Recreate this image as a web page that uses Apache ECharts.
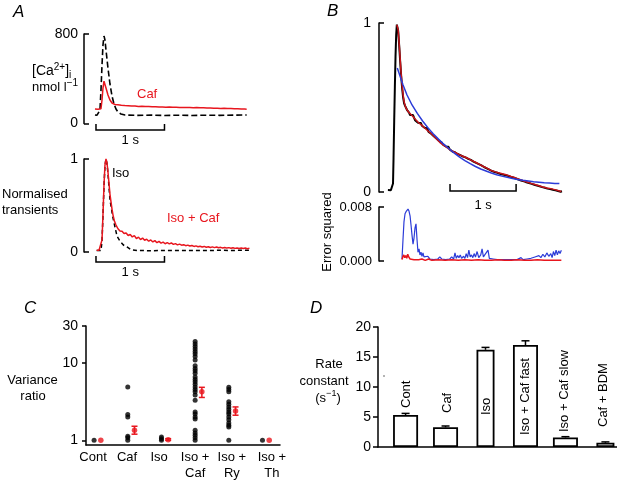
<!DOCTYPE html>
<html><head><meta charset="utf-8">
<script src="https://cdn.jsdelivr.net/npm/echarts@6/dist/echarts.min.js"></script>
<style>html,body{margin:0;padding:0;background:#fff}#c{width:617px;height:480px}</style>
</head><body><div id="c"></div>
<script>
// ---------- Panel A (top): [Ca2+]i, nmol/l vs time (s) ----------
const a1Black = [[-0.015,76],[0.015,74],[0.044,77],[0.058,120],[0.073,300],[0.088,523],[0.102,700],[0.117,782],[0.131,746],[0.146,657],[0.175,496],[0.204,353],[0.234,246],[0.263,174],[0.292,130],[0.321,103],[0.365,85],[0.423,76],[0.6,73],[0.8,75],[1.0,72],[1.2,74],[1.4,72],[1.6,74],[1.8,73],[2.0,75],[2.2,76]];
const a1Red = [[-0.015,130],[0.03,128],[0.073,132],[0.088,210],[0.102,317],[0.117,378],[0.131,362],[0.146,317],[0.175,255],[0.204,210],[0.234,183],[0.277,170],[0.32,167],[0.37,163],[0.42,160],[0.47,158],[0.52,156],[0.57,157],[0.62,153],[0.67,154],[0.72,151],[0.77,152],[0.82,149],[0.87,150],[0.92,147],[0.97,148],[1.02,146],[1.07,147],[1.12,145],[1.17,146],[1.22,143],[1.27,144],[1.32,142],[1.37,143],[1.42,141],[1.47,142],[1.52,140],[1.57,140],[1.62,138],[1.67,139],[1.72,137],[1.77,137],[1.82,135],[1.87,136],[1.92,134],[1.97,134],[2.02,132],[2.07,132],[2.12,130],[2.17,129],[2.2,128]];
const a1Ticks = [0, 800];
// ---------- Panel A (bottom): normalised transients ----------
const a2Black = [[0.01,0.016],[0.073,0.016],[0.088,0.12],[0.102,0.39],[0.117,0.71],[0.131,0.93],[0.146,1.0],[0.161,0.95],[0.175,0.84],[0.204,0.56],[0.248,0.366],[0.307,0.17],[0.35,0.118],[0.4,0.075],[0.453,0.054],[0.51,0.025],[0.6,0.016],[0.8,0.014],[1.0,0.016],[1.2,0.015],[1.4,0.017],[1.6,0.016],[1.8,0.018],[2.0,0.017],[2.25,0.02]];
const a2Red = [[0.01,0.02],[0.044,0.018],[0.073,0.022],[0.088,0.13],[0.102,0.4],[0.117,0.72],[0.131,0.935],[0.146,1.0],[0.161,0.957],[0.175,0.86],[0.204,0.62],[0.234,0.46],[0.248,0.4],[0.27,0.33],[0.292,0.29],[0.321,0.25],[0.35,0.226],[0.38,0.222],[0.41,0.198],[0.44,0.205],[0.47,0.178],[0.5,0.188],[0.53,0.162],[0.56,0.176],[0.59,0.145],[0.62,0.16],[0.65,0.134],[0.68,0.15],[0.71,0.126],[0.74,0.138],[0.77,0.116],[0.8,0.13],[0.83,0.108],[0.86,0.122],[0.89,0.1],[0.92,0.114],[0.95,0.095],[0.98,0.107],[1.01,0.089],[1.04,0.1],[1.07,0.087],[1.1,0.097],[1.13,0.082],[1.16,0.09],[1.19,0.077],[1.22,0.085],[1.25,0.073],[1.28,0.079],[1.31,0.068],[1.34,0.074],[1.37,0.064],[1.4,0.07],[1.43,0.06],[1.46,0.066],[1.49,0.057],[1.52,0.062],[1.55,0.054],[1.58,0.06],[1.61,0.051],[1.64,0.057],[1.67,0.049],[1.7,0.055],[1.73,0.047],[1.76,0.053],[1.79,0.045],[1.82,0.05],[1.85,0.043],[1.88,0.049],[1.91,0.042],[1.94,0.047],[1.97,0.04],[2.0,0.046],[2.03,0.039],[2.06,0.044],[2.09,0.038],[2.12,0.043],[2.15,0.037],[2.18,0.042],[2.21,0.036],[2.24,0.04]];
const a2Ticks = [0, 1];
// ---------- Panel B (top): normalised transient and fits ----------
const bBlack = [[-0.065,0.012],[-0.05,0.009],[-0.035,0.014],[-0.02,0.011],[-0.005,0.013],[0.012,0.05],[0.02,0.2],[0.03,0.42],[0.04,0.62],[0.05,0.8],[0.06,0.93],[0.07,0.99],[0.078,1.0],[0.09,0.955],[0.105,0.87],[0.12,0.775],[0.135,0.69],[0.15,0.615],[0.165,0.56],[0.18,0.525],[0.195,0.51],[0.21,0.5],[0.225,0.485],[0.24,0.49],[0.255,0.47],[0.27,0.455],[0.285,0.46],[0.3,0.445],[0.315,0.455],[0.33,0.44],[0.345,0.425],[0.36,0.435],[0.375,0.425],[0.39,0.41],[0.405,0.418],[0.42,0.4],[0.435,0.408],[0.45,0.392],[0.47,0.398],[0.49,0.38],[0.51,0.372],[0.53,0.378],[0.55,0.355],[0.57,0.36],[0.59,0.345],[0.61,0.34],[0.63,0.33],[0.65,0.334],[0.67,0.316],[0.69,0.31],[0.71,0.302],[0.73,0.296],[0.75,0.292],[0.77,0.28],[0.79,0.283],[0.81,0.27],[0.83,0.262],[0.85,0.268],[0.87,0.252],[0.89,0.256],[0.91,0.24],[0.93,0.245],[0.95,0.235],[0.97,0.238],[0.99,0.225],[1.01,0.228],[1.03,0.218],[1.05,0.222],[1.07,0.21],[1.09,0.215],[1.11,0.205],[1.13,0.208],[1.15,0.196],[1.17,0.2],[1.19,0.19],[1.21,0.192],[1.23,0.18],[1.25,0.185],[1.27,0.172],[1.29,0.176],[1.31,0.165],[1.33,0.168],[1.35,0.158],[1.37,0.16],[1.39,0.148],[1.41,0.152],[1.43,0.14],[1.45,0.144],[1.47,0.132],[1.49,0.135],[1.51,0.124],[1.53,0.128],[1.55,0.118],[1.57,0.122],[1.59,0.114],[1.61,0.118],[1.63,0.108],[1.65,0.113],[1.67,0.104],[1.69,0.109],[1.71,0.1],[1.73,0.104],[1.75,0.096],[1.77,0.1],[1.79,0.09],[1.81,0.094],[1.83,0.086],[1.85,0.089],[1.87,0.08],[1.89,0.084],[1.91,0.074],[1.93,0.078],[1.95,0.068],[1.97,0.072],[1.99,0.064],[2.01,0.067],[2.03,0.058],[2.05,0.062],[2.07,0.053],[2.09,0.057],[2.11,0.048],[2.13,0.052],[2.15,0.043],[2.17,0.047],[2.19,0.038],[2.21,0.042],[2.23,0.034],[2.25,0.037],[2.27,0.029],[2.29,0.033],[2.31,0.025],[2.33,0.028],[2.35,0.02],[2.37,0.024],[2.39,0.017],[2.41,0.021],[2.43,0.013],[2.45,0.017],[2.47,0.01],[2.49,0.013],[2.51,0.006],[2.53,0.009],[2.55,0.002],[2.57,0.004]];
const bRedFit = [[0.07,0.99],[0.078,1.0],[0.09,0.96],[0.105,0.88],[0.12,0.79],[0.135,0.7],[0.15,0.63],[0.165,0.575],[0.18,0.535],[0.2,0.505],[0.22,0.488],[0.25,0.472],[0.28,0.46],[0.31,0.448],[0.35,0.43],[0.4,0.41],[0.45,0.394],[0.5,0.376],[0.55,0.358],[0.6,0.342],[0.66,0.318],[0.72,0.294],[0.78,0.276],[0.84,0.26],[0.9,0.244],[0.96,0.232],[1.02,0.22],[1.08,0.21],[1.14,0.2],[1.2,0.187],[1.26,0.176],[1.32,0.163],[1.38,0.151],[1.44,0.14],[1.5,0.127],[1.56,0.119],[1.62,0.112],[1.68,0.106],[1.74,0.1],[1.8,0.092],[1.86,0.085],[1.92,0.075],[1.98,0.067],[2.04,0.059],[2.1,0.051],[2.16,0.044],[2.22,0.037],[2.28,0.03],[2.34,0.024],[2.4,0.02],[2.46,0.014],[2.52,0.007],[2.56,0.003]];
const bBlueFit = [[0.077,0.734],[0.118,0.686],[0.164,0.633],[0.224,0.574],[0.3,0.515],[0.38,0.465],[0.46,0.42],[0.54,0.38],[0.62,0.345],[0.7,0.313],[0.78,0.283],[0.86,0.256],[0.94,0.23],[1.02,0.206],[1.1,0.186],[1.18,0.168],[1.26,0.151],[1.34,0.136],[1.42,0.124],[1.5,0.112],[1.58,0.102],[1.66,0.094],[1.74,0.087],[1.82,0.08],[1.9,0.074],[1.98,0.069],[2.06,0.065],[2.14,0.061],[2.22,0.058],[2.3,0.055],[2.38,0.053],[2.46,0.051],[2.53,0.05]];
const bTicks = [0, 1];
// ---------- Panel B (bottom): error squared ----------
const errBlue = [[0.148,0.0003],[0.163,0.0031],[0.178,0.0058],[0.194,0.007],[0.209,0.0073],[0.224,0.0074],[0.239,0.0077],[0.254,0.0074],[0.27,0.0067],[0.285,0.0053],[0.3,0.0038],[0.315,0.0025],[0.33,0.0034],[0.345,0.0049],[0.36,0.0055],[0.376,0.0031],[0.39,0.0013],[0.406,0.0018],[0.42,0.0009],[0.436,0.0013],[0.45,0.0007],[0.466,0.0012],[0.48,0.0006],[0.51,0.0004],[0.54,0.0007],[0.57,0.0003],[0.6,0.0005],[0.63,0.0002],[0.66,0.0004],[0.69,0.0003],[0.72,0.0006],[0.75,0.0003],[0.78,0.0005],[0.81,0.0002],[0.84,0.0004],[0.87,0.0003],[0.9,0.0006],[0.93,0.0003],[0.95,0.0012],[0.97,0.0004],[0.99,0.0008],[1.01,0.0005],[1.03,0.0009],[1.05,0.0004],[1.08,0.0007],[1.1,0.0004],[1.12,0.0011],[1.14,0.0005],[1.16,0.0016],[1.18,0.0006],[1.2,0.0009],[1.22,0.0005],[1.24,0.0011],[1.26,0.0006],[1.285,0.0014],[1.31,0.0005],[1.34,0.0009],[1.36,0.0018],[1.38,0.0006],[1.41,0.0008],[1.45,0.0016],[1.47,0.0004],[1.5,0.0006],[1.53,0.0003],[1.56,0.0004],[1.59,0.0002],[1.62,0.0004],[1.65,0.0002],[1.68,0.0003],[1.71,0.0002],[1.74,0.0004],[1.77,0.0002],[1.8,0.0003],[1.83,0.0002],[1.86,0.0004],[1.89,0.0002],[1.92,0.0003],[1.95,0.0005],[1.98,0.0002],[2.01,0.0004],[2.04,0.0003],[2.07,0.0002],[2.1,0.0004],[2.13,0.0003],[2.16,0.0006],[2.19,0.0004],[2.22,0.0008],[2.25,0.0005],[2.28,0.001],[2.31,0.0006],[2.34,0.0012],[2.37,0.0007],[2.4,0.0011],[2.42,0.0005],[2.44,0.0014],[2.46,0.0008],[2.48,0.0016],[2.5,0.0009],[2.52,0.0015],[2.54,0.0011],[2.56,0.0016]];
const errRed = [[0.148,0.0002],[0.16,0.0006],[0.175,0.0009],[0.19,0.0005],[0.205,0.0008],[0.22,0.0004],[0.235,0.001],[0.25,0.0006],[0.27,0.0003],[0.3,0.0005],[0.33,0.0002],[0.36,0.0004],[0.4,0.0002],[0.45,0.0003],[0.5,0.0001],[0.55,0.0003],[0.6,0.0001],[0.7,0.0002],[0.8,0.0001],[0.9,0.0002],[1.0,0.0001],[1.1,0.0002],[1.2,0.0001],[1.3,0.0002],[1.4,0.0001],[1.5,0.0001],[1.6,0.0002],[1.7,0.0001],[1.8,0.0001],[1.9,0.0002],[2.0,0.0001],[2.1,0.0001],[2.2,0.0002],[2.3,0.0001],[2.4,0.0001],[2.5,0.0001],[2.56,0.0001]];
const errTicks = [0, 0.008];
// ---------- Panel C: variance ratio (log) ----------
const catC = ['Cont', 'Caf', 'Iso', 'Iso +\nCaf', 'Iso +\nRy', 'Iso +\nTh'];
const dotsCont = [1];
const dotsCaf = [4.9, 2.16, 2.0, 1.13, 1.08, 1.0];
const dotsIso = [1.1, 1.05, 1.0];
const dotsIsoCaf = [18.9,17.6,16.3,15.1,14.0,13.1,12.1,10.9,9.2,8.5,7.9,7.35,6.6,6.1,5.7,5.3,4.9,4.55,4.24,3.84,3.3,2.33,2.18,2.0,1.89,1.35,1.24,1.16,1.08,1.0];
const dotsIsoRy = [4.84,4.55,4.24,3.14,2.93,2.7,2.5,2.33,2.18,2.0,1.85,1.68,1.57,1.49,1.0];
const dotsIsoTh = [1];
const meanC = [1, 1.35, 1.02, 4.24, 2.4, 1];
const lowC  = [null, 1.2, 1.0, 3.58, 2.11, null];
const highC = [null, 1.52, 1.05, 4.84, 2.7, null];
const ticksC = [1, 10, 30];
// ---------- Panel D: rate constant ----------
const catD = ['Cont', 'Caf', 'Iso', 'Iso + Caf fast', 'Iso + Caf slow', 'Caf + BDM'];
const rateD = [5.33, 3.28, 16.2, 17.0, 1.6, 0.7];
const errD = [0.27, 0.22, 0.4, 0.7, 0.12, 0.15];

// ---------- styling ----------
const FONT = '"Liberation Sans", Arial, Helvetica, sans-serif';
const RED = '#e8161e', BLUE = '#2c3cd8', BLK = '#000';
const narrowD = [false, false, true, false, false, true];
const labelPosC = [-0.03, 0.98, 1.93, 3.0, 4.09, 5.28];

const chart = echarts.init(document.getElementById('c'), null, {renderer: 'canvas'});

function gridAt(left, top, width, height) {
  return {left, top, width, height, containLabel: false, outerBoundsMode: 'none'};
}
function hiddenX(gi, min, max) {
  return {gridIndex: gi, type: 'value', min, max, show: false};
}
function bracketY(gi, ticks, extra) {
  return Object.assign({
    gridIndex: gi, type: 'value', min: ticks[0], max: ticks[1], interval: ticks[1] - ticks[0],
    axisLine: {show: true, onZero: false, lineStyle: {color: BLK, width: 1.5}},
    axisTick: {show: true, inside: true, length: 5, lineStyle: {color: BLK, width: 1.5}},
    axisLabel: {color: BLK, fontSize: 14, fontFamily: FONT, margin: 6},
    splitLine: {show: false}
  }, extra || {});
}
function lineS(xi, yi, data, color, width, dash, z) {
  return {type: 'line', xAxisIndex: xi, yAxisIndex: yi, data, symbol: 'none', showSymbol: false,
    lineStyle: {color, width, type: dash || 'solid'}, silent: true, z: z || 2, clip: false};
}

const dotsC = [dotsCont, dotsCaf, dotsIso, dotsIsoCaf, dotsIsoRy, dotsIsoTh];
const blackC = [];
dotsC.forEach((arr, i) => arr.forEach(v => blackC.push([i, v])));
const redMeanC = meanC.map((m, i) => [i + 0.2, m]);
const errBarsC = [];
meanC.forEach((m, i) => { if (lowC[i] != null) errBarsC.push([i + 0.2, lowC[i], highC[i]]); });

const wideBars = [], narrowBars = [];
rateD.forEach((v, i) => (narrowD[i] ? narrowBars : wideBars).push([i, v]));
const errBarsD = rateD.map((v, i) => [i, v, v + errD[i]]);

const option = {
  animation: false,
  backgroundColor: '#fff',
  textStyle: {fontFamily: FONT},
  grid: [
    gridAt(84, 34, 167, 89.5),
    gridAt(84, 159, 167, 93),
    gridAt(379, 23, 185, 169),
    gridAt(379, 207, 185, 54),
    gridAt(86, 326, 194, 119),
    gridAt(378, 327, 239, 120)
  ],
  xAxis: [
    hiddenX(0, -0.175, 2.263),
    hiddenX(1, -0.175, 2.263),
    hiddenX(2, -0.2, 2.6),
    hiddenX(3, -0.2, 2.6),
    {gridIndex: 4, type: 'value', min: -0.24, max: 5.52,
      axisLine: {show: true, onZero: false, lineStyle: {color: BLK, width: 1.5}},
      axisTick: {show: false}, splitLine: {show: false},
      axisLabel: {customValues: labelPosC, formatter: v => catC[Math.round(v)], color: BLK,
        fontSize: 13, fontFamily: FONT, lineHeight: 16, margin: 4}},
    {gridIndex: 5, type: 'value', min: -0.69, max: 5.29,
      axisLine: {show: true, onZero: false, lineStyle: {color: BLK, width: 1.5}},
      axisTick: {show: false}, axisLabel: {show: false}, splitLine: {show: false}},
    hiddenX(5, -0.69, 5.29)
  ],
  yAxis: [
    bracketY(0, a1Ticks),
    bracketY(1, a2Ticks),
    bracketY(2, bTicks, {axisLabel: {color: BLK, fontSize: 14, fontFamily: FONT, margin: 8}}),
    bracketY(3, errTicks, {axisLabel: {color: BLK, fontSize: 13, fontFamily: FONT, margin: 7, formatter: v => v.toFixed(3)}}),
    {gridIndex: 4, type: 'log', logBase: 10, min: 0.87, max: 30,
      axisLine: {show: true, onZero: false, lineStyle: {color: BLK, width: 1.5}},
      axisTick: {show: true, inside: false, length: 4, customValues: ticksC, lineStyle: {color: BLK, width: 1.5}},
      minorTick: {show: false}, splitLine: {show: false},
      axisLabel: {customValues: ticksC, formatter: v => String(Math.round(v)), color: BLK, fontSize: 14, fontFamily: FONT, margin: 8}},
    {gridIndex: 5, type: 'value', min: 0, max: 20, interval: 5,
      axisLine: {show: true, onZero: false, lineStyle: {color: BLK, width: 1.5}},
      axisTick: {show: true, inside: false, length: 5, lineStyle: {color: BLK, width: 1.5}},
      splitLine: {show: false},
      axisLabel: {color: BLK, fontSize: 14, fontFamily: FONT, margin: 7}}
  ],
  series: [
    lineS(0, 0, a1Black, BLK, 1.6, [6, 3]),
    lineS(0, 0, a1Red, RED, 1.5),
    lineS(1, 1, a2Black, BLK, 1.5, [4, 3]),
    lineS(1, 1, a2Red, RED, 1.5, null, 3),
    lineS(2, 2, bBlack, BLK, 2),
    lineS(2, 2, bRedFit, '#c8141a', 1.5, null, 3),
    lineS(2, 2, bBlueFit, BLUE, 1.5, null, 4),
    lineS(3, 3, errBlue, BLUE, 1.2),
    lineS(3, 3, errRed, RED, 1.5, null, 3),
    {type: 'scatter', xAxisIndex: 4, yAxisIndex: 4, data: blackC, symbolSize: 5,
      itemStyle: {color: BLK}, silent: true},
    {type: 'custom', xAxisIndex: 4, yAxisIndex: 4, data: errBarsC, encode: {x: 0, y: [1, 2]}, silent: true, z: 3,
      renderItem: (params, api) => {
        const x = api.value(0);
        const p1 = api.coord([x, api.value(1)]), p2 = api.coord([x, api.value(2)]);
        const st = {stroke: RED, lineWidth: 1.5};
        return {type: 'group', children: [
          {type: 'line', shape: {x1: p1[0], y1: p1[1], x2: p2[0], y2: p2[1]}, style: st},
          {type: 'line', shape: {x1: p1[0] - 3, y1: p1[1], x2: p1[0] + 3, y2: p1[1]}, style: st},
          {type: 'line', shape: {x1: p2[0] - 3, y1: p2[1], x2: p2[0] + 3, y2: p2[1]}, style: st}
        ]};
      }},
    {type: 'scatter', xAxisIndex: 4, yAxisIndex: 4, data: redMeanC, symbolSize: 5.5,
      itemStyle: {color: RED}, silent: true, z: 4},
    {type: 'bar', xAxisIndex: 5, yAxisIndex: 5, data: wideBars, barWidth: 25, silent: true,
      itemStyle: {color: '#fff', borderColor: BLK, borderWidth: 1.8}},
    {type: 'bar', xAxisIndex: 6, yAxisIndex: 5, data: narrowBars, barWidth: 18, silent: true,
      itemStyle: {color: '#fff', borderColor: BLK, borderWidth: 1.8}},
    {type: 'custom', xAxisIndex: 5, yAxisIndex: 5, data: errBarsD, encode: {x: 0, y: [1, 2]}, silent: true, z: 3,
      renderItem: (params, api) => {
        const x = api.value(0);
        const p1 = api.coord([x, api.value(1)]), p2 = api.coord([x, api.value(2)]);
        const st = {stroke: BLK, lineWidth: 1.5};
        return {type: 'group', children: [
          {type: 'line', shape: {x1: p1[0], y1: p1[1], x2: p2[0], y2: p2[1]}, style: st},
          {type: 'line', shape: {x1: p2[0] - 4, y1: p2[1], x2: p2[0] + 4, y2: p2[1]}, style: st}
        ]};
      }}
  ]
};
chart.setOption(option);

// ---------- annotations ----------
function txt(x, y, text, o) {
  o = o || {};
  return {type: 'text', x, y, rotation: o.rot || 0, silent: true, z: 10,
    style: {text, fill: o.color || BLK,
      font: (o.italic ? 'italic ' : '') + (o.size || 13) + 'px ' + FONT,
      textAlign: o.align || 'left', align: o.align || 'left',
      textVerticalAlign: 'middle', verticalAlign: 'middle',
      rich: o.rich}};
}
function richSet(main, small) {
  return {
    a: {fontSize: main, fontFamily: FONT, fill: BLK, lineHeight: 18},
    sup: {fontSize: small, fontFamily: FONT, fill: BLK, lineHeight: small, verticalAlign: 'top'},
    sub: {fontSize: small, fontFamily: FONT, fill: BLK, lineHeight: small, verticalAlign: 'bottom'}
  };
}
function scaleBar(xi, t0, t1, yBar, yTop, yText) {
  const x0 = chart.convertToPixel({xAxisIndex: xi}, t0);
  const x1 = chart.convertToPixel({xAxisIndex: xi}, t1);
  return [
    {type: 'polyline', silent: true, shape: {points: [[x0, yTop], [x0, yBar], [x1, yBar], [x1, yTop]]},
      style: {stroke: BLK, lineWidth: 1.5, fill: null}},
    txt((x0 + x1) / 2, yText, '1 s', {align: 'center'})
  ];
}
const labelBaseD = [[406, 408], [447, 413], [486, 415], [525, 435], [564, 432], [603, 427]];
const g = [
  txt(13, 12, 'A', {italic: true, size: 17}),
  txt(327, 11, 'B', {italic: true, size: 17}),
  txt(24, 308, 'C', {italic: true, size: 17}),
  txt(310, 308, 'D', {italic: true, size: 17}),
  txt(32, 71, '{a|[Ca}{sup|2+}{a|]}{sub|i}', {rich: richSet(14, 10)}),
  txt(32, 87, '{a|nmol l}{sup|−1}', {rich: richSet(13, 10)}),
  txt(137, 94, 'Caf', {color: RED}),
  txt(2, 194, 'Normalised'),
  txt(2, 210, 'transients'),
  txt(112, 173, 'Iso'),
  txt(167, 218, 'Iso + Caf', {color: RED}),
  txt(327, 232, 'Error squared', {rot: Math.PI / 2, align: 'center'}),
  txt(32.5, 380, 'Variance', {align: 'center'}),
  txt(33, 396, 'ratio', {align: 'center'}),
  txt(329, 364, 'Rate', {align: 'center'}),
  txt(324, 381, 'constant', {align: 'center'}),
  txt(328, 398, '{a|(s}{sup|−1}{a|)}', {align: 'center', rich: richSet(13, 9)}),
  {type: 'circle', silent: true, shape: {cx: 384, cy: 376, r: 0.8}, style: {fill: '#555'}}
].concat(
  scaleBar(0, 0, 1, 130, 124, 140),
  scaleBar(1, 0, 1, 262, 256, 272),
  scaleBar(2, 0.875, 1.875, 191, 184, 205),
  catD.map((c, i) => txt(labelBaseD[i][0], labelBaseD[i][1], c, {rot: Math.PI / 2}))
);
chart.setOption({graphic: {elements: g}});
</script>
</body></html>
